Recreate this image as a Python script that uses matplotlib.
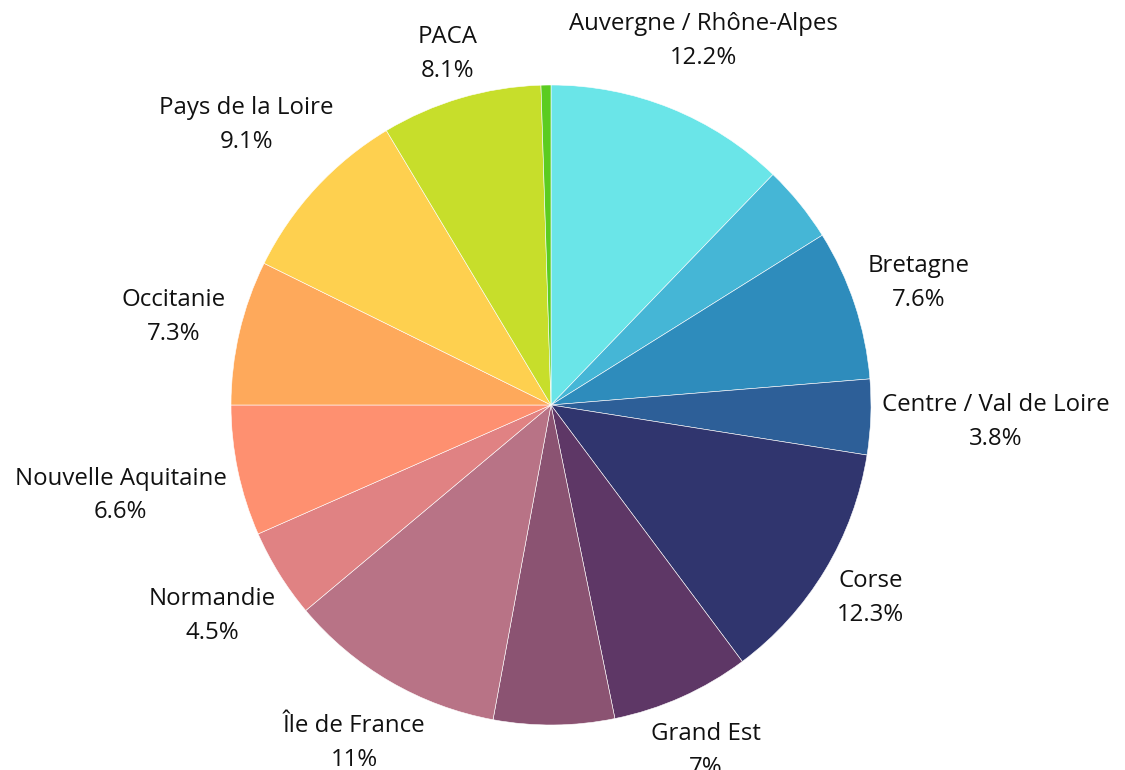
import numpy as np
import matplotlib.pyplot as plt

# Regions, clockwise from 12 o'clock
regions = ['Auvergne / Rhône-Alpes', 'Bourgogne / Franche-Comté', 'Bretagne',
           'Centre / Val de Loire', 'Corse', 'Grand Est', 'Hauts de France',
           'Île de France', 'Normandie', 'Nouvelle Aquitaine', 'Occitanie',
           'Pays de la Loire', 'PACA', 'Outre-mer']
shares = [12.2, 3.9, 7.6, 3.8, 12.3, 7.0, 6.1, 11.0, 4.5, 6.6, 7.3, 9.1, 8.1, 0.5]
shown = [True, False, True, True, True, True, False, True, True, True, True, True, True, False]
colors = ['#6ae5e8', '#45b6d6', '#2e8cbc', '#2d5f98', '#30356e', '#5e3766', '#8b5372',
          '#b87386', '#e08283', '#fe9070', '#fea95b', '#fed04f', '#c7de2b', '#5bcc20']

plt.rcParams['font.family'] = ['Open Sans', 'DejaVu Sans']

PX = 320.0          # pie radius in pixels
CX, CY = 551, 405   # pie centre, pixels from top-left
W, H = 1125, 770

fig = plt.figure(figsize=(W / 100, H / 100), dpi=100)
ax = fig.add_axes([0, 0, 1, 1])
ax.axis('off')

wedges, _ = ax.pie(shares, colors=colors, startangle=90, counterclock=False,
                   radius=1, wedgeprops=dict(edgecolor='white', linewidth=0.4))

ax.set_xlim(-CX / PX, (W - CX) / PX)
ax.set_ylim(-(H - CY) / PX, CY / PX)
ax.set_aspect('auto')

fig.canvas.draw()
renderer = fig.canvas.get_renderer()

gap = 10 / PX
ytop = CY / PX - 12 / PX   # keep labels inside the top edge
for w, name, val, s in zip(wedges, regions, shares, shown):
    if not s:
        continue
    t = ax.text(0, 0, f'{name}\n{val:g}%', ha='center', va='center',
                fontsize=17.3, color='#111111', linespacing=1.55)
    bb = t.get_window_extent(renderer)
    hw, hh = bb.width / 2 / PX, bb.height / 2 / PX
    ang = np.deg2rad((w.theta1 + w.theta2) / 2)
    ux, uy = np.cos(ang), np.sin(ang)
    d = 1 + gap + hw * abs(ux) + hh * abs(uy)
    x, y = d * ux, d * uy
    if y + hh > ytop:
        y = ytop - hh
    t.set_position((x, y))

fig.savefig('out.png', dpi=100)
